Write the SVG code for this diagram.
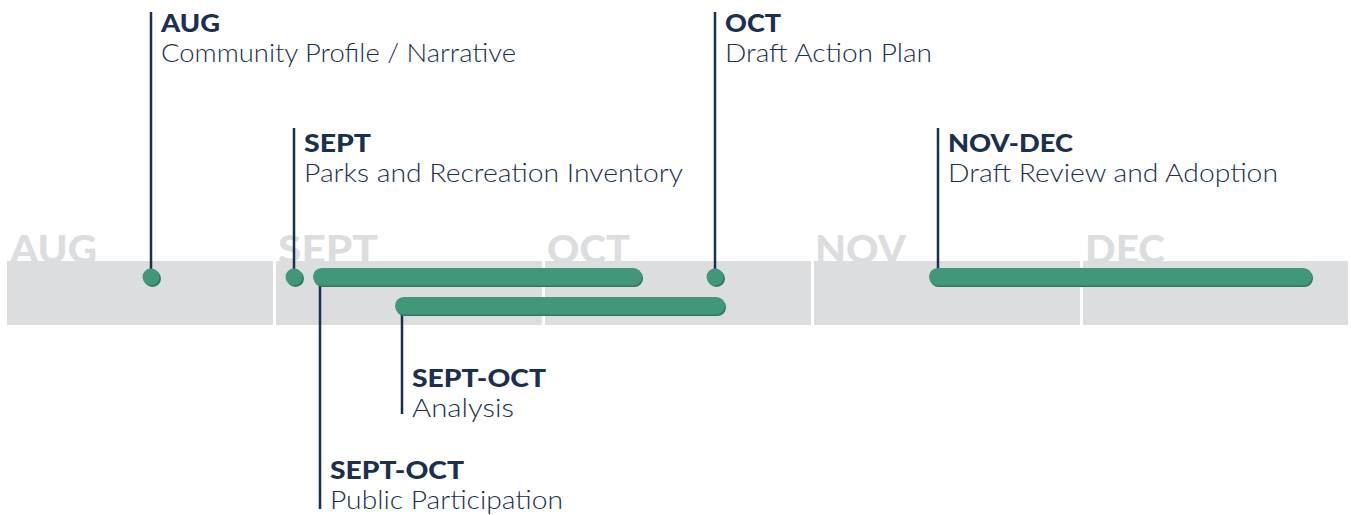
<svg xmlns="http://www.w3.org/2000/svg" width="1351" height="515" viewBox="0 0 1351 515">
<style>
.month{font-family:Lato,"Open Sans",sans-serif;font-weight:900;font-size:37px;fill:#dcdddf}
.band{fill:#dcdddf}
.ln{stroke:#1b2f4f;stroke-width:2.5;fill:none}
.hd{font-family:Lato,"Open Sans",sans-serif;font-weight:900;font-size:24px;fill:#1b2f4f}
.sub{font-family:Lato,"Open Sans",sans-serif;font-weight:300;font-size:25px;fill:#1b2f4f}
.bar{fill:#42967a}
.sh{fill:#2f7a5e}
</style>
<g id="timeline">
<text class="month" x="10" y="263" textLength="87" lengthAdjust="spacingAndGlyphs">AUG</text>
<text class="month" x="278" y="263" textLength="100" lengthAdjust="spacingAndGlyphs">SEPT</text>
<text class="month" x="547" y="263" textLength="83" lengthAdjust="spacingAndGlyphs">OCT</text>
<text class="month" x="815" y="263" textLength="91" lengthAdjust="spacingAndGlyphs">NOV</text>
<text class="month" x="1085" y="263" textLength="80" lengthAdjust="spacingAndGlyphs">DEC</text>
<rect class="band" x="7" y="261" width="266" height="64"/>
<rect class="band" x="276" y="261" width="266" height="64"/>
<rect class="band" x="545" y="261" width="266" height="64"/>
<rect class="band" x="814" y="261" width="266" height="64"/>
<rect class="band" x="1083" y="261" width="265" height="64"/>
</g>
<g id="connectors">
<line class="ln" x1="151" y1="12" x2="151" y2="277"/>
<line class="ln" x1="294" y1="128" x2="294" y2="277"/>
<line class="ln" x1="715" y1="12" x2="715" y2="277"/>
<line class="ln" x1="938" y1="128" x2="938" y2="277"/>
<line class="ln" x1="320" y1="277" x2="320" y2="509"/>
<line class="ln" x1="402" y1="306" x2="402" y2="414"/>
</g>
<g id="aug">
<circle class="sh" cx="152.5" cy="278.5" r="8.5"/>
<circle class="bar" cx="151" cy="277" r="8.5"/>
<text class="hd" x="161" y="32" textLength="59" lengthAdjust="spacingAndGlyphs">AUG</text>
<text class="sub" x="161" y="62" textLength="355" lengthAdjust="spacingAndGlyphs">Community Profile / Narrative</text>
</g>
<g id="sept">
<circle class="sh" cx="295.5" cy="278.5" r="8.5"/>
<circle class="bar" cx="294" cy="277" r="8.5"/>
<text class="hd" x="304" y="152" textLength="67" lengthAdjust="spacingAndGlyphs">SEPT</text>
<text class="sub" x="304" y="182" textLength="379" lengthAdjust="spacingAndGlyphs">Parks and Recreation Inventory</text>
</g>
<g id="oct">
<circle class="sh" cx="716.5" cy="278.5" r="8.5"/>
<circle class="bar" cx="715" cy="277" r="8.5"/>
<text class="hd" x="725" y="32" textLength="56" lengthAdjust="spacingAndGlyphs">OCT</text>
<text class="sub" x="725" y="62" textLength="207" lengthAdjust="spacingAndGlyphs">Draft Action Plan</text>
</g>
<g id="public-participation">
<rect class="sh" x="314" y="269.5" width="329" height="17.5" rx="8.75"/>
<rect class="bar" x="313" y="268" width="329" height="17.5" rx="8.75"/>
<text class="hd" x="330" y="479" textLength="134" lengthAdjust="spacingAndGlyphs">SEPT-OCT</text>
<text class="sub" x="330" y="509" textLength="233" lengthAdjust="spacingAndGlyphs">Public Participation</text>
</g>
<g id="analysis">
<rect class="sh" x="396" y="298.5" width="330" height="17.5" rx="8.75"/>
<rect class="bar" x="395" y="297" width="330" height="17.5" rx="8.75"/>
<text class="hd" x="412" y="387" textLength="134" lengthAdjust="spacingAndGlyphs">SEPT-OCT</text>
<text class="sub" x="412" y="417" textLength="102" lengthAdjust="spacingAndGlyphs">Analysis</text>
</g>
<g id="nov-dec">
<rect class="sh" x="930" y="269.5" width="383" height="17.5" rx="8.75"/>
<rect class="bar" x="929" y="268" width="383" height="17.5" rx="8.75"/>
<text class="hd" x="948" y="152" textLength="125" lengthAdjust="spacingAndGlyphs">NOV-DEC</text>
<text class="sub" x="948" y="182" textLength="330" lengthAdjust="spacingAndGlyphs">Draft Review and Adoption</text>
</g>
</svg>
